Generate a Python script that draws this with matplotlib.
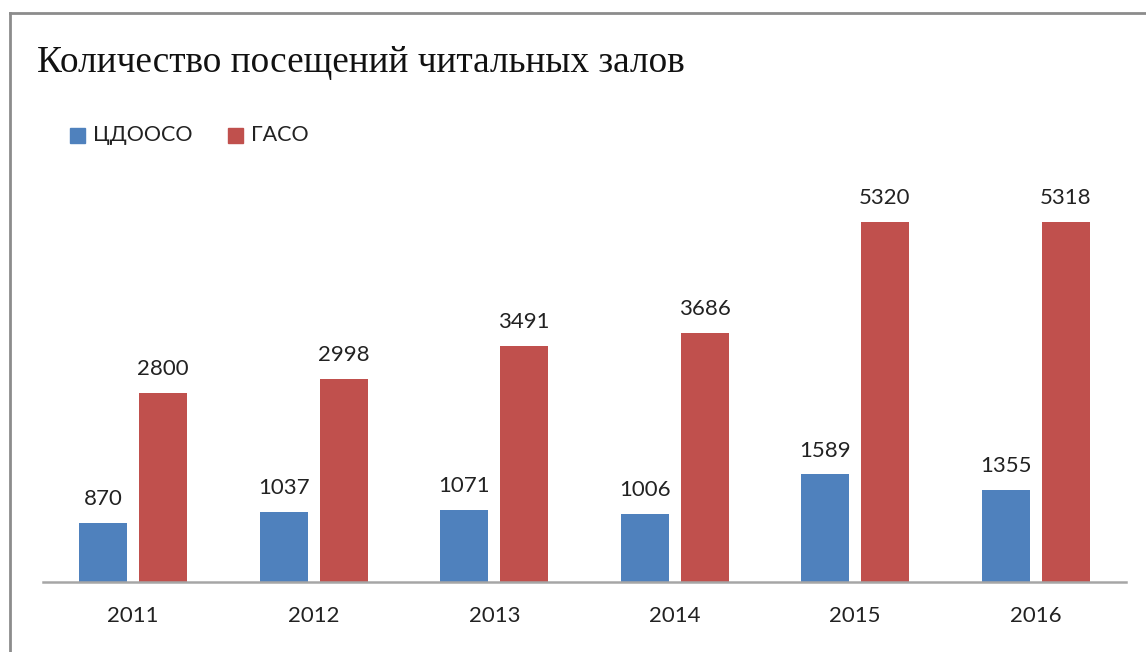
import matplotlib
matplotlib.use("Agg")
import matplotlib.pyplot as plt
from matplotlib.lines import Line2D
import numpy as np

years = ["2011", "2012", "2013", "2014", "2015", "2016"]
cdooso = [870, 1037, 1071, 1006, 1589, 1355]
gaso = [2800, 2998, 3491, 3686, 5320, 5318]
series_names = ["ЦДООСО", "ГАСО"]

BLUE = "#4F81BD"
RED = "#C0504D"
W, H = 1146, 652

fig = plt.figure(figsize=(W / 100, H / 100), dpi=100)

# axes placed in pixel coordinates: x 43..1126, baseline at y=582
left, right, bottom, top = 43, 1126, 582, 176
ax = fig.add_axes([left / W, 1 - bottom / H, (right - left) / W, (bottom - top) / H])

x = np.arange(len(years))
bw = 0.266
off = 0.165
b1 = ax.bar(x - off, cdooso, bw, color=BLUE)
b2 = ax.bar(x + off, gaso, bw, color=RED)

for bars, vals in [(b1, cdooso), (b2, gaso)]:
    for rect, v in zip(bars, vals):
        ax.annotate(str(v), (rect.get_x() + rect.get_width() / 2, v),
                    xytext=(0, 10), textcoords="offset points",
                    ha="center", va="bottom", fontsize=16,
                    family="Lato", color="#222222")

ax.set_xlim(-0.5, len(years) - 0.5)
ax.set_ylim(0, 6000)
ax.set_xticks(x)
ax.set_xticklabels(years, fontsize=16, family="Lato", color="#222222")
ax.tick_params(axis="x", length=0, pad=17)
ax.set_yticks([])
for s in ["top", "right", "left"]:
    ax.spines[s].set_visible(False)
ax.spines["bottom"].set_color("#A6A6A6")
ax.spines["bottom"].set_linewidth(1.8)

# title
fig.text(37 / W, 1 - 63 / H, "Количество посещений читальных залов",
         fontsize=26.8, family="Liberation Serif", ha="left", va="center",
         color="#111111")

# legend
for px, name, col in [(70, series_names[0], BLUE), (228, series_names[1], RED)]:
    fig.patches.append(plt.Rectangle((px / W, 1 - 143 / H), 15 / W, 15 / H,
                                     transform=fig.transFigure, color=col))
    fig.text((px + 23) / W, 1 - 135 / H, name, fontsize=15.5, family="Lato",
             ha="left", va="center", color="#222222")

# frame
fig.add_artist(Line2D([10 / W, 1], [1 - 13 / H, 1 - 13 / H],
                      transform=fig.transFigure, color="#8C8C8C", lw=2))
fig.add_artist(Line2D([10 / W, 10 / W], [0, 1 - 13 / H],
                      transform=fig.transFigure, color="#8C8C8C", lw=2))

fig.savefig("out.png", dpi=100)
